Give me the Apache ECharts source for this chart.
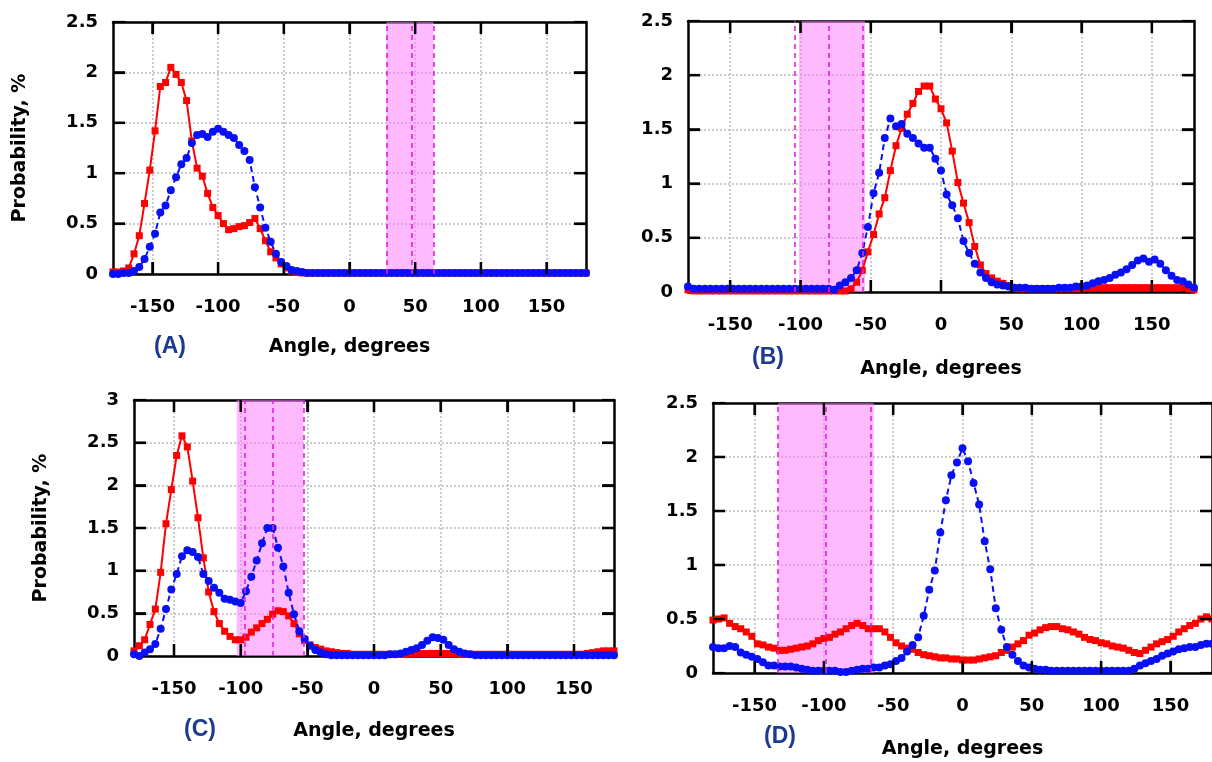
<!DOCTYPE html>
<html><head><meta charset="utf-8">
<script src="https://cdn.jsdelivr.net/npm/echarts@6/dist/echarts.min.js"></script>
<style>html,body{margin:0;padding:0;background:#fff}#c{width:1212px;height:762px}#err{position:absolute;left:300px;top:380px;color:#c00;font:14px sans-serif}</style>
</head><body><div id="c"></div><div id="err"></div>
<script>
const angles = [
 -180,-176,-172,-168,-164,-160,-156,-152,-148,-144,
 -140,-136,-132,-128,-124,-120,-116,-112,-108,-104,
 -100,-96,-92,-88,-84,-80,-76,-72,-68,-64,
 -60,-56,-52,-48,-44,-40,-36,-32,-28,-24,
 -20,-16,-12,-8,-4,0,4,8,12,16,
 20,24,28,32,36,40,44,48,52,56,
 60,64,68,72,76,80,84,88,92,96,
 100,104,108,112,116,120,124,128,132,136,
 140,144,148,152,156,160,164,168,172,176,
 180];

const redA = [
 0.02,0.02,0.03,0.06,0.2,0.38,0.7,1.03,1.42,1.86,
 1.9,2.05,1.98,1.9,1.72,1.32,1.05,0.97,0.8,0.66,
 0.58,0.5,0.44,0.45,0.47,0.48,0.51,0.55,0.45,0.33,
 0.22,0.16,0.1,0.06,0.03,0.02,0.01,0.01,0.01,0.01,
 0.01,0.01,0.01,0.01,0.01,0.01,0.01,0.01,0.01,0.01,
 0.01,0.01,0.01,0.01,0.01,0.01,0.01,0.01,0.01,0.01,
 0.01,0.01,0.01,0.01,0.01,0.01,0.01,0.01,0.01,0.01,
 0.01,0.01,0.01,0.01,0.01,0.01,0.01,0.01,0.01,0.01,
 0.01,0.01,0.01,0.01,0.01,0.01,0.01,0.01,0.01,0.01,
 0.01];
const blueA = [
 0,0,0.01,0.01,0.03,0.07,0.15,0.27,0.4,0.61,
 0.68,0.83,0.96,1.09,1.15,1.3,1.38,1.39,1.36,1.41,
 1.44,1.41,1.38,1.35,1.28,1.22,1.13,0.86,0.66,0.46,
 0.32,0.2,0.12,0.08,0.04,0.03,0.02,0.01,0.01,0.01,
 0.01,0.01,0.01,0.01,0.01,0.01,0.01,0.01,0.01,0.01,
 0.01,0.01,0.01,0.01,0.01,0.01,0.01,0.01,0.01,0.01,
 0.01,0.01,0.01,0.01,0.01,0.01,0.01,0.01,0.01,0.01,
 0.01,0.01,0.01,0.01,0.01,0.01,0.01,0.01,0.01,0.01,
 0.01,0.01,0.01,0.01,0.01,0.01,0.01,0.01,0.01,0.01,
 0.01];

const redB = [
 0.02,0.01,0.01,0.01,0.01,0.01,0.01,0.01,0.01,0.01,
 0.01,0.01,0.01,0.01,0.01,0.01,0.01,0.01,0.01,0.01,
 0.01,0.01,0.01,0.01,0.01,0.01,0.01,0.01,0.01,0.03,
 0.09,0.2,0.37,0.53,0.72,0.87,1.12,1.35,1.51,1.64,
 1.74,1.85,1.9,1.9,1.78,1.69,1.56,1.3,1.01,0.82,
 0.64,0.42,0.25,0.17,0.13,0.1,0.08,0.06,0.04,0.03,
 0.03,0.03,0.03,0.03,0.03,0.03,0.03,0.03,0.03,0.03,
 0.03,0.04,0.04,0.04,0.04,0.04,0.04,0.04,0.04,0.04,
 0.04,0.04,0.04,0.04,0.04,0.04,0.04,0.04,0.04,0.03,
 0.02];
const blueB = [
 0.05,0.03,0.03,0.03,0.03,0.03,0.03,0.03,0.03,0.03,
 0.03,0.03,0.03,0.03,0.03,0.03,0.03,0.03,0.03,0.03,
 0.03,0.03,0.03,0.03,0.03,0.03,0.02,0.06,0.09,0.13,
 0.2,0.36,0.6,0.91,1.1,1.42,1.6,1.53,1.55,1.46,
 1.42,1.37,1.33,1.33,1.23,1.12,0.9,0.8,0.68,0.47,
 0.36,0.26,0.18,0.13,0.09,0.07,0.06,0.05,0.04,0.04,
 0.04,0.03,0.03,0.03,0.03,0.03,0.04,0.04,0.04,0.05,
 0.05,0.06,0.08,0.1,0.11,0.13,0.16,0.18,0.21,0.25,
 0.29,0.31,0.28,0.3,0.26,0.2,0.15,0.11,0.1,0.07,
 0.04];

const redC = [
 0.06,0.12,0.19,0.37,0.55,0.98,1.55,1.95,2.35,2.58,
 2.45,2.05,1.62,1.15,0.75,0.52,0.38,0.29,0.23,0.19,
 0.19,0.22,0.28,0.33,0.38,0.43,0.49,0.53,0.52,0.47,
 0.38,0.26,0.18,0.13,0.1,0.08,0.06,0.05,0.04,0.03,
 0.03,0.02,0.02,0.02,0.02,0.02,0.02,0.02,0.02,0.02,
 0.02,0.02,0.03,0.03,0.03,0.03,0.03,0.03,0.03,0.03,
 0.03,0.03,0.02,0.02,0.02,0.02,0.02,0.02,0.02,0.02,
 0.02,0.02,0.02,0.02,0.02,0.02,0.02,0.02,0.02,0.02,
 0.02,0.02,0.02,0.02,0.02,0.03,0.04,0.05,0.06,0.06,
 0.06];
const blueC = [
 0.02,0,0.04,0.08,0.14,0.32,0.55,0.78,0.96,1.17,
 1.24,1.22,1.16,0.96,0.88,0.8,0.74,0.67,0.66,0.64,
 0.62,0.76,0.93,1.12,1.32,1.5,1.5,1.27,1.05,0.74,
 0.49,0.29,0.2,0.12,0.07,0.04,0.02,0.01,0.01,0.01,
 0.01,0.01,0.01,0.01,0.01,0.01,0.01,0.01,0.02,0.02,
 0.03,0.05,0.07,0.09,0.13,0.18,0.22,0.21,0.19,0.13,
 0.08,0.05,0.03,0.02,0.01,0.01,0.01,0.01,0.01,0.01,
 0.01,0.01,0.01,0.01,0.01,0.01,0.01,0.01,0.01,0.01,
 0.01,0.01,0.01,0.01,0.01,0.01,0.01,0.01,0.01,0.01,
 0.01];

const redD = [
 0.49,0.5,0.51,0.46,0.43,0.41,0.38,0.34,0.27,0.26,
 0.24,0.23,0.21,0.21,0.22,0.23,0.24,0.25,0.27,0.3,
 0.32,0.33,0.36,0.38,0.41,0.44,0.46,0.44,0.41,0.41,
 0.41,0.38,0.33,0.28,0.25,0.23,0.22,0.19,0.17,0.16,
 0.15,0.14,0.14,0.13,0.13,0.12,0.12,0.12,0.13,0.14,
 0.15,0.16,0.19,0.21,0.24,0.27,0.3,0.35,0.37,0.4,
 0.42,0.43,0.43,0.41,0.4,0.38,0.36,0.33,0.31,0.3,
 0.28,0.27,0.25,0.24,0.23,0.21,0.19,0.18,0.21,0.24,
 0.27,0.29,0.31,0.34,0.38,0.41,0.44,0.46,0.5,0.52,
 0.5];
const blueD = [
 0.24,0.23,0.23,0.25,0.24,0.19,0.17,0.15,0.13,0.1,
 0.07,0.07,0.06,0.06,0.06,0.05,0.04,0.03,0.02,0.02,
 0.02,0.02,0.02,0.01,0.01,0.02,0.03,0.04,0.04,0.05,
 0.05,0.07,0.08,0.11,0.14,0.2,0.26,0.33,0.53,0.77,
 0.95,1.3,1.6,1.83,1.95,2.08,1.96,1.76,1.56,1.22,
 0.96,0.6,0.4,0.24,0.17,0.11,0.07,0.05,0.04,0.03,
 0.03,0.02,0.02,0.02,0.02,0.02,0.02,0.02,0.02,0.02,
 0.02,0.02,0.02,0.02,0.02,0.02,0.04,0.07,0.09,0.11,
 0.13,0.16,0.18,0.2,0.22,0.23,0.24,0.24,0.26,0.27,
 0.27];

const xTicks = [-150, -100, -50, 0, 50, 100, 150];
const bandA = [28, 64],   dashA = [28, 47, 64];
const bandB = [-101, -54], dashB = [-104, -80, -56];
const bandC = [-103, -53], dashC = [-97, -76, -53];
const bandD = [-133, -64], dashD = [-133, -99, -66];
const panelLabels = ['(A)', '(B)', '(C)', '(D)'];
const xTitle = 'Angle, degrees';
const yTitle = 'Probability, %';

const FONT = 'DejaVu Sans';
const panels = [
  {grid:{left:113, top:22, width:473, height:252}, ymax:2.5, red:redA, blue:blueA, band:bandA, dash:dashA, yName:yTitle, xGap:64, lab:[170,347]},
  {grid:{left:688, top:21, width:506, height:271}, ymax:2.5, red:redB, blue:blueB, band:bandB, dash:dashB, yName:'', xGap:68, lab:[768,358]},
  {grid:{left:134, top:400, width:480, height:256}, ymax:3, red:redC, blue:blueC, band:bandC, dash:dashC, yName:yTitle, xGap:66, lab:[200,730]},
  {grid:{left:713, top:403, width:502, height:270}, ymax:2.5, red:redD, blue:blueD, band:bandD, dash:dashD, yName:'', xGap:67, lab:[780,737]}
];

function pairs(vals){ return angles.map((a,i)=>[a, vals[i]]); }

const grids=[], xAxes=[], yAxes=[], series=[], graphics=[];
const tickStyle = {show:true, inside:true, length:12, lineStyle:{color:'#000', width:2.2}};
const splitStyle = {show:true, lineStyle:{color:'#bbbbbb', width:1.5, type:[2,2]}};
const labelFont = {fontFamily:FONT, fontWeight:'bold', fontSize:18, color:'#000'};
const frameLine = {show:true, onZero:false, lineStyle:{color:'#000', width:2.5}};

panels.forEach((p,i)=>{
  grids.push(Object.assign({show:false}, p.grid));
  xAxes.push({type:'value', gridIndex:i, position:'bottom', min:-180, max:180,
    axisLine:frameLine,
    axisTick:Object.assign({customValues:xTicks}, tickStyle),
    axisLabel:Object.assign({customValues:xTicks, margin:24}, labelFont),
    splitLine:splitStyle,
    name:xTitle, nameLocation:'middle', nameGap:p.xGap,
    nameTextStyle:{fontFamily:FONT, fontWeight:'bold', fontSize:19, color:'#000'}});
  xAxes.push({type:'value', gridIndex:i, position:'top', min:-180, max:180,
    axisLine:frameLine,
    axisTick:Object.assign({customValues:xTicks}, tickStyle),
    axisLabel:{show:false}, splitLine:{show:false}});
  yAxes.push({type:'value', gridIndex:i, position:'left', min:0, max:p.ymax, interval:0.5,
    axisLine:frameLine, axisTick:tickStyle,
    axisLabel:Object.assign({margin:15}, labelFont),
    splitLine:splitStyle,
    name:p.yName, nameLocation:'middle', nameGap:83,
    nameTextStyle:{fontFamily:FONT, fontWeight:'bold', fontSize:19, color:'#000'}});
  yAxes.push({type:'value', gridIndex:i, position:'right', min:0, max:p.ymax, interval:0.5,
    axisLine:frameLine, axisTick:tickStyle,
    axisLabel:{show:false}, splitLine:{show:false}});

  series.push({type:'line', name:'red'+i, xAxisIndex:2*i, yAxisIndex:2*i, data:pairs(p.red),
    symbol:'rect', symbolSize:7, showSymbol:true,
    lineStyle:{color:'#ff0000', width:2}, itemStyle:{color:'#ff0000'},
    z:3, silent:true,
    markArea:{silent:true, itemStyle:{color:'rgba(255,130,255,0.55)'},
      data:[[{xAxis:p.band[0]},{xAxis:p.band[1]}]]},
    markLine:{silent:true, symbol:['none','none'], label:{show:false},
      lineStyle:{color:'#e020e0', width:1.6, type:[5,4]},
      data:p.dash.map(v=>({xAxis:v}))}
  });
  series.push({type:'line', name:'blue'+i, xAxisIndex:2*i, yAxisIndex:2*i, data:pairs(p.blue),
    symbol:'circle', symbolSize:8, showSymbol:true,
    lineStyle:{color:'#0a10f5', width:2, type:[6,4]}, itemStyle:{color:'#0a10f5'},
    z:4, silent:true});

  graphics.push({type:'text', id:'lab'+i, x:p.lab[0], y:p.lab[1],
    style:{text:panelLabels[i], textAlign:'center', textVerticalAlign:'middle',
      fontFamily:'Liberation Sans', fontWeight:'bold', fontSize:23, fill:'#1c3a8e'}});
});

const chart = echarts.init(document.getElementById('c'), null, {renderer:'canvas'});
chart.setOption({
  animation:false,
  backgroundColor:'#fff',
  grid:grids, xAxis:xAxes, yAxis:yAxes, series:series, graphic:graphics
});

// mirrored gnuplot-style inward ticks, positioned through the chart's own scales
try {
  const TL = 12;
  const tickGraphics = [];
  panels.forEach((p,i)=>{
    const f = {seriesIndex:2*i};
    const st = {stroke:'#000', lineWidth:2.4};
    xTicks.forEach(v=>{
      const b = chart.convertToPixel(f, [v, 0]);
      const t = chart.convertToPixel(f, [v, p.ymax]);
      tickGraphics.push({type:'line', z:100, silent:true, shape:{x1:b[0], y1:b[1], x2:b[0], y2:b[1]-TL}, style:st});
      tickGraphics.push({type:'line', z:100, silent:true, shape:{x1:t[0], y1:t[1], x2:t[0], y2:t[1]+TL}, style:st});
    });
    for (let v = 0.5; v < p.ymax - 0.01; v += 0.5) {
      const l = chart.convertToPixel(f, [-180, v]);
      const r = chart.convertToPixel(f, [180, v]);
      tickGraphics.push({type:'line', z:100, silent:true, shape:{x1:l[0], y1:l[1], x2:l[0]+TL, y2:l[1]}, style:st});
      tickGraphics.push({type:'line', z:100, silent:true, shape:{x1:r[0], y1:r[1], x2:r[0]-TL, y2:r[1]}, style:st});
    }
  });
  chart.setOption({graphic: graphics.concat(tickGraphics)});
} catch (e) {
  document.getElementById('err').textContent = 'ERR: ' + e.message;
}
</script>
</body></html>
